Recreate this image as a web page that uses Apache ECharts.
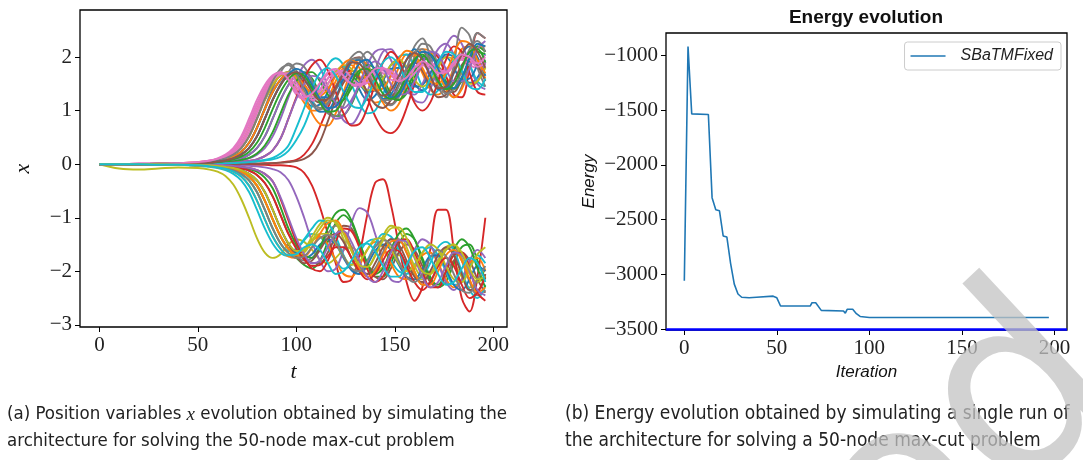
<!DOCTYPE html>
<html><head><meta charset="utf-8">
<script src="https://cdn.jsdelivr.net/npm/echarts@6/dist/echarts.min.js"></script>
<style>html,body{margin:0;padding:0;background:#fff}#c{width:1083px;height:460px}</style>
</head><body><div id="c"></div>
<script>
// time grid (t) shared by the 50 position traces
const T = [0,10,20,30,40,50,56,60,64,68,72,76,80,84,88,92,96,100,104,108,112,116,120,124,128,132,136,140,144,148,152,156,160,164,168,172,176,180,184,188,192,196];

const s00 = [0,0,0,0.01,0.01,0.03,0.05,0.07,0.11,0.18,0.3,0.52,0.85,1.2,1.48,1.66,1.72,1.55,1.25,1.08,1.12,1.35,1.7,1.82,1.7,1.4,1.2,1.28,1.55,1.85,1.95,1.78,1.5,1.38,1.5,1.82,2.05,2.0,1.72,1.52,1.62,1.9];
const s01 = [0,0,0,0.01,0.02,0.04,0.06,0.09,0.14,0.23,0.4,0.68,1.03,1.35,1.58,1.7,1.62,1.4,1.15,1.0,1.02,1.22,1.55,1.8,1.85,1.65,1.35,1.15,1.2,1.45,1.8,2.05,2.0,1.7,1.4,1.3,1.45,1.8,2.15,2.2,1.95,1.6];
const s02 = [0,0,0,0,0.01,0.01,0.02,0.03,0.05,0.07,0.11,0.18,0.3,0.52,0.85,1.2,1.48,1.66,1.72,1.6,1.3,1.02,0.9,0.92,1.12,1.45,1.7,1.78,1.6,1.32,1.2,1.32,1.62,1.9,2.0,1.85,1.55,1.42,1.55,1.85,2.1,2.05];
const s03 = [0,0,0,0,0,0,0,0,0,0.005,0.01,0.01,0.01,0.02,0.02,0.03,0.05,0.08,0.18,0.38,0.7,1.05,1.4,1.65,1.75,1.6,1.25,0.9,0.65,0.58,0.7,1.05,1.5,1.9,2.1,2.0,1.65,1.3,1.25,1.8,2.45,2.35];
const s04 = [0,0,0,0,0.01,0.01,0.015,0.02,0.03,0.05,0.07,0.11,0.18,0.3,0.52,0.85,1.25,1.6,1.85,1.95,1.8,1.45,1.1,0.82,0.75,0.95,1.35,1.75,2.1,2.15,1.9,1.5,1.2,1.15,1.4,1.8,2.2,2.4,2.25,1.85,1.5,1.4];
const s05 = [0,0,0,0.01,0.01,0.02,0.04,0.06,0.09,0.14,0.23,0.4,0.68,1.03,1.35,1.58,1.72,1.7,1.5,1.25,1.15,1.22,1.45,1.75,1.95,2.0,1.8,1.45,1.2,1.12,1.3,1.65,1.95,2.1,1.95,1.6,1.35,1.35,1.6,1.95,2.2,2.1];
const s06 = [0,0,0.01,0.01,0.02,0.04,0.07,0.11,0.18,0.3,0.52,0.85,1.2,1.48,1.66,1.72,1.55,1.3,1.22,1.3,1.5,1.68,1.72,1.6,1.48,1.5,1.65,1.75,1.7,1.58,1.55,1.68,1.82,1.85,1.72,1.65,1.75,1.92,1.98,1.85,1.8,1.95];
const s07 = [0,0,0,0.01,0.01,0.02,0.04,0.06,0.09,0.14,0.23,0.4,0.68,1.05,1.42,1.72,1.88,1.75,1.45,1.18,1.05,1.15,1.42,1.75,2.0,2.1,1.9,1.5,1.2,1.1,1.25,1.6,2.0,2.25,2.2,1.85,1.45,1.25,1.45,2.0,2.45,2.35];
const s08 = [0,-0.08,-0.1,-0.08,-0.06,-0.07,-0.1,-0.14,-0.22,-0.38,-0.65,-1.0,-1.38,-1.65,-1.75,-1.68,-1.5,-1.4,-1.45,-1.6,-1.78,-1.85,-1.75,-1.6,-1.55,-1.68,-1.88,-2.0,-1.92,-1.75,-1.7,-1.85,-2.05,-2.15,-2.05,-1.85,-1.75,-1.85,-2.1,-2.3,-2.2,-1.95];
const s09 = [0,0,0,0,0,0.01,0.01,0.01,0.02,0.02,0.03,0.04,0.05,0.07,0.09,0.14,0.25,0.45,0.72,1.1,1.5,1.85,1.98,1.85,1.5,1.15,0.95,1.0,1.3,1.7,2.0,2.05,1.8,1.45,1.3,1.38,1.65,1.95,2.05,1.85,1.55,1.45];
const s10 = [0,0,0,0,0.01,0.02,0.03,0.05,0.07,0.11,0.18,0.3,0.52,0.85,1.2,1.48,1.66,1.72,1.6,1.4,1.25,1.25,1.4,1.58,1.62,1.5,1.35,1.38,1.58,1.78,1.8,1.62,1.45,1.48,1.7,1.95,2.0,1.8,1.58,1.6,1.85,2.05];
const s11 = [0,0,0,0.01,0.01,0.03,0.05,0.07,0.11,0.18,0.3,0.52,0.85,1.2,1.48,1.66,1.72,1.6,1.3,0.95,0.75,0.72,0.95,1.35,1.75,1.95,1.85,1.5,1.15,1.0,1.12,1.5,1.9,2.15,2.1,1.75,1.4,1.25,1.4,1.8,2.15,2.2];
const s12 = [0,0,0,0,-0.01,-0.02,-0.025,-0.04,-0.06,-0.09,-0.14,-0.23,-0.4,-0.68,-1.03,-1.35,-1.58,-1.75,-1.88,-1.95,-1.8,-1.45,-1.1,-0.95,-1.1,-1.45,-1.85,-2.1,-2.1,-1.85,-1.5,-1.3,-1.4,-1.75,-2.1,-2.3,-2.2,-1.85,-1.55,-1.5,-1.8,-2.15];
const s13 = [0,0,0,0,0,0,0,0,0,0,-0.005,-0.01,-0.01,-0.01,-0.02,-0.02,-0.03,-0.06,-0.16,-0.4,-0.8,-1.3,-1.85,-2.2,-2.15,-1.7,-0.95,-0.35,-0.28,-0.75,-1.5,-2.2,-2.55,-2.3,-1.6,-0.85,-0.85,-1.6,-2.5,-2.75,-2.1,-1.0];
const s14 = [0,0,0,0,0.01,0.01,0.02,0.03,0.05,0.07,0.11,0.18,0.3,0.52,0.85,1.2,1.48,1.66,1.72,1.55,1.25,1.0,0.85,0.9,1.15,1.5,1.85,2.1,2.15,1.95,1.6,1.35,1.3,1.5,1.85,2.15,2.25,2.05,1.7,1.45,1.55,1.9];
const s15 = [0,0,0,0,0,-0.01,-0.015,-0.02,-0.03,-0.05,-0.08,-0.12,-0.2,-0.35,-0.6,-0.95,-1.3,-1.55,-1.72,-1.85,-1.85,-1.65,-1.35,-1.15,-1.2,-1.5,-1.85,-2.1,-2.15,-1.95,-1.65,-1.5,-1.6,-1.9,-2.2,-2.3,-2.1,-1.8,-1.65,-1.8,-2.15,-2.4];
const s16 = [0,0,0.01,0.01,0.02,0.04,0.065,0.1,0.16,0.27,0.47,0.77,1.12,1.42,1.63,1.72,1.6,1.38,1.2,1.18,1.35,1.6,1.75,1.72,1.55,1.45,1.52,1.68,1.78,1.72,1.6,1.6,1.75,1.88,1.85,1.72,1.7,1.85,2.0,1.98,1.85,1.9];
const s17 = [0,0,0,0,0.01,0.02,0.03,0.05,0.07,0.11,0.18,0.3,0.52,0.85,1.2,1.5,1.72,1.88,1.82,1.55,1.2,0.95,0.9,1.1,1.5,1.9,2.1,1.95,1.6,1.3,1.35,1.75,2.2,2.35,2.0,1.45,1.25,1.85,2.55,2.4,1.8,1.45];
const s18 = [0,0,0,0.01,0.01,0.03,0.05,0.07,0.11,0.18,0.3,0.52,0.85,1.2,1.48,1.66,1.72,1.62,1.42,1.3,1.32,1.5,1.72,1.85,1.78,1.55,1.38,1.4,1.6,1.85,1.95,1.82,1.58,1.45,1.55,1.8,2.0,1.95,1.7,1.5,1.55,1.8];
const s19 = [0,0,0,-0.01,-0.01,-0.03,-0.05,-0.07,-0.11,-0.18,-0.3,-0.52,-0.85,-1.2,-1.48,-1.66,-1.72,-1.6,-1.42,-1.3,-1.35,-1.55,-1.8,-1.95,-1.88,-1.65,-1.45,-1.4,-1.55,-1.8,-2.0,-2.05,-1.88,-1.65,-1.55,-1.7,-2.0,-2.25,-2.2,-1.9,-1.7,-1.85];
const s20 = [0,0,0,0.01,0.01,0.02,0.04,0.06,0.09,0.14,0.23,0.4,0.68,1.03,1.35,1.58,1.7,1.68,1.45,1.15,0.98,1.0,1.25,1.6,1.9,1.95,1.72,1.4,1.22,1.3,1.6,1.95,2.15,2.0,1.65,1.4,1.42,1.7,2.05,2.2,2.0,1.65];
const s21 = [0,0,0,-0.01,-0.01,-0.02,-0.04,-0.06,-0.09,-0.14,-0.23,-0.4,-0.68,-1.03,-1.35,-1.58,-1.72,-1.75,-1.62,-1.42,-1.35,-1.5,-1.8,-2.05,-2.1,-1.9,-1.6,-1.45,-1.55,-1.85,-2.1,-2.15,-1.95,-1.7,-1.65,-1.85,-2.15,-2.3,-2.15,-1.85,-1.75,-2.0];
const s22 = [0,0,0,0,0,0.01,0.015,0.02,0.03,0.05,0.08,0.12,0.2,0.35,0.6,0.95,1.3,1.55,1.7,1.72,1.55,1.3,1.15,1.2,1.42,1.7,1.85,1.78,1.5,1.25,1.2,1.4,1.72,2.0,2.05,1.8,1.5,1.4,1.6,1.95,2.2,2.1];
const s23 = [0,0,0,0,0,0,0.01,0.01,0.02,0.03,0.04,0.06,0.09,0.15,0.26,0.48,0.85,1.25,1.6,1.85,1.95,1.75,1.35,0.95,0.72,0.75,1.05,1.5,1.9,2.1,1.95,1.55,1.15,1.0,1.15,1.55,1.95,2.2,2.1,1.7,1.35,1.3];
const s24 = [0,0,0,0,0,0,0,-0.01,-0.01,-0.015,-0.02,-0.03,-0.04,-0.06,-0.09,-0.15,-0.3,-0.6,-1.0,-1.45,-1.8,-2.0,-1.95,-1.6,-1.1,-0.82,-0.9,-1.3,-1.8,-2.15,-2.2,-1.95,-1.6,-1.4,-1.5,-1.85,-2.2,-2.35,-2.15,-1.8,-1.6,-1.75];
const s25 = [0,0,0,0,0,0,0,0,0,0,0.005,0.01,0.01,0.01,0.02,0.03,0.04,0.06,0.1,0.2,0.42,0.8,1.2,1.52,1.68,1.6,1.35,1.12,1.05,1.2,1.5,1.78,1.9,1.75,1.45,1.25,1.3,1.55,1.85,2.0,1.85,1.55];
const s26 = [0,0,0.01,0.01,0.02,0.03,0.06,0.09,0.14,0.23,0.4,0.68,1.03,1.35,1.58,1.7,1.65,1.45,1.28,1.25,1.4,1.6,1.7,1.62,1.48,1.45,1.58,1.72,1.75,1.65,1.58,1.65,1.8,1.88,1.8,1.7,1.78,1.9,1.95,1.88,1.9,2.05];
const s27 = [0,0,0,0,-0.01,-0.02,-0.025,-0.04,-0.06,-0.09,-0.14,-0.23,-0.4,-0.68,-1.03,-1.35,-1.58,-1.72,-1.8,-1.75,-1.55,-1.3,-1.15,-1.25,-1.55,-1.9,-2.05,-1.95,-1.65,-1.4,-1.4,-1.65,-2.0,-2.25,-2.2,-1.9,-1.6,-1.55,-1.8,-2.2,-2.45,-2.35];
const s28 = [0,0,0,0,-0.01,-0.02,-0.03,-0.05,-0.07,-0.11,-0.18,-0.3,-0.52,-0.85,-1.2,-1.48,-1.66,-1.72,-1.6,-1.35,-1.12,-1.0,-1.1,-1.4,-1.75,-1.98,-1.95,-1.7,-1.35,-1.15,-1.22,-1.55,-1.9,-2.1,-2.05,-1.8,-1.55,-1.5,-1.75,-2.05,-2.2,-2.1];
const s29 = [0,0,0,0,-0.01,-0.02,-0.03,-0.05,-0.07,-0.11,-0.18,-0.3,-0.52,-0.85,-1.2,-1.48,-1.62,-1.58,-1.4,-1.2,-1.05,-1.1,-1.35,-1.7,-1.95,-2.0,-1.8,-1.5,-1.3,-1.35,-1.6,-1.95,-2.15,-2.1,-1.85,-1.55,-1.45,-1.6,-2.0,-2.35,-2.5,-2.25];
const s30 = [0,0,0,0,-0.01,-0.01,-0.02,-0.03,-0.05,-0.07,-0.11,-0.18,-0.3,-0.52,-0.85,-1.2,-1.48,-1.66,-1.75,-1.68,-1.5,-1.4,-1.5,-1.75,-1.98,-2.05,-1.88,-1.62,-1.5,-1.6,-1.88,-2.1,-2.15,-1.95,-1.72,-1.7,-1.95,-2.25,-2.35,-2.15,-1.9,-2.0];
const s31 = [0,0,0,0.01,0.01,0.02,0.04,0.06,0.09,0.14,0.23,0.4,0.68,1.03,1.35,1.58,1.7,1.65,1.48,1.32,1.28,1.4,1.65,1.88,1.95,1.8,1.55,1.38,1.42,1.65,1.95,2.12,2.05,1.8,1.55,1.5,1.72,2.05,2.3,2.25,1.95,1.7];
const s32 = [0,0,0,0,0,-0.01,-0.015,-0.02,-0.03,-0.04,-0.06,-0.09,-0.14,-0.25,-0.45,-0.8,-1.2,-1.5,-1.7,-1.75,-1.55,-1.2,-0.92,-0.85,-1.05,-1.45,-1.85,-2.05,-1.95,-1.6,-1.3,-1.2,-1.4,-1.8,-2.15,-2.25,-2.0,-1.6,-1.4,-1.55,-1.95,-2.3];
const s33 = [0,0,0,0,0,0,-0.01,-0.01,-0.02,-0.03,-0.05,-0.07,-0.11,-0.18,-0.32,-0.65,-1.05,-1.45,-1.75,-1.95,-2.0,-1.8,-1.45,-1.2,-1.25,-1.55,-1.95,-2.2,-2.1,-1.75,-1.45,-1.4,-1.65,-2.0,-2.3,-2.3,-2.0,-1.7,-1.65,-1.95,-2.4,-2.55];
const s34 = [0,0,0,0,0,0,0.01,0.01,0.02,0.03,0.04,0.06,0.09,0.15,0.26,0.48,0.85,1.22,1.5,1.65,1.6,1.38,1.15,1.05,1.2,1.5,1.8,1.92,1.8,1.5,1.3,1.32,1.55,1.88,2.1,2.05,1.78,1.55,1.55,1.8,2.15,2.3];
const s35 = [0,0,0,0,-0.01,-0.01,-0.02,-0.03,-0.05,-0.07,-0.11,-0.18,-0.3,-0.52,-0.85,-1.2,-1.5,-1.72,-1.85,-1.8,-1.6,-1.38,-1.3,-1.45,-1.75,-2.0,-2.05,-1.85,-1.55,-1.4,-1.5,-1.8,-2.1,-2.2,-2.0,-1.7,-1.55,-1.7,-2.05,-2.35,-2.35,-2.05];
const s36 = [0,0,0.01,0.01,0.02,0.03,0.055,0.08,0.12,0.2,0.35,0.6,0.95,1.28,1.55,1.68,1.7,1.52,1.3,1.2,1.28,1.5,1.7,1.75,1.62,1.5,1.52,1.65,1.78,1.75,1.62,1.58,1.7,1.85,1.9,1.78,1.72,1.85,2.0,1.95,1.82,1.88];
const s37 = [0,0,0,0.01,0.01,0.03,0.05,0.07,0.11,0.18,0.3,0.52,0.85,1.22,1.55,1.78,1.85,1.68,1.38,1.12,1.02,1.12,1.4,1.72,1.95,1.98,1.75,1.42,1.2,1.2,1.45,1.8,2.1,2.15,1.9,1.55,1.32,1.4,1.75,2.15,2.3,2.1];
const s38 = [0,0,0,0,-0.01,-0.02,-0.025,-0.04,-0.06,-0.09,-0.14,-0.23,-0.4,-0.68,-1.03,-1.35,-1.58,-1.7,-1.65,-1.45,-1.3,-1.3,-1.48,-1.72,-1.88,-1.82,-1.6,-1.4,-1.38,-1.58,-1.85,-2.0,-1.9,-1.65,-1.5,-1.6,-1.9,-2.15,-2.2,-1.95,-1.68,-1.55];
const s39 = [0,0,0,0,0,0,0.01,0.01,0.015,0.02,0.03,0.04,0.06,0.08,0.12,0.2,0.35,0.68,1.05,1.42,1.7,1.8,1.65,1.35,1.1,1.05,1.25,1.6,1.9,2.0,1.85,1.55,1.35,1.35,1.6,1.9,2.1,2.05,1.75,1.45,1.4,1.6];
const s40 = [0,0,0,0,0.01,0.02,0.03,0.05,0.07,0.11,0.18,0.3,0.52,0.85,1.2,1.48,1.68,1.78,1.7,1.48,1.22,1.05,1.08,1.3,1.62,1.88,1.95,1.75,1.45,1.25,1.28,1.55,1.88,2.1,2.05,1.78,1.5,1.42,1.62,1.98,2.25,2.2];
const s41 = [0,0,0,0,-0.01,-0.02,-0.025,-0.04,-0.06,-0.09,-0.14,-0.23,-0.4,-0.68,-1.03,-1.35,-1.58,-1.7,-1.72,-1.55,-1.3,-1.1,-1.05,-1.25,-1.6,-1.95,-2.1,-2.0,-1.7,-1.45,-1.42,-1.65,-2.0,-2.25,-2.25,-2.0,-1.7,-1.6,-1.8,-2.15,-2.4,-2.3];
const s42 = [0,0,0,0,0.01,0.02,0.025,0.04,0.06,0.09,0.14,0.23,0.4,0.68,1.03,1.35,1.58,1.7,1.65,1.42,1.15,0.98,1.0,1.22,1.52,1.75,1.78,1.58,1.32,1.22,1.35,1.65,1.95,2.05,1.85,1.55,1.4,1.5,1.8,2.1,2.15,1.9];
const s43 = [0,0,0,0,0,-0.01,-0.015,-0.02,-0.03,-0.05,-0.08,-0.12,-0.2,-0.35,-0.6,-0.95,-1.3,-1.58,-1.78,-1.9,-1.88,-1.72,-1.55,-1.55,-1.75,-2.0,-2.15,-2.05,-1.8,-1.6,-1.62,-1.9,-2.2,-2.35,-2.2,-1.9,-1.75,-1.9,-2.25,-2.5,-2.4,-2.1];
const s44 = [0,0,0,0,0,0,-0.01,-0.01,-0.02,-0.03,-0.05,-0.07,-0.11,-0.18,-0.32,-0.62,-1.0,-1.38,-1.68,-1.85,-1.8,-1.55,-1.3,-1.25,-1.45,-1.8,-2.1,-2.2,-2.0,-1.65,-1.42,-1.45,-1.75,-2.1,-2.3,-2.2,-1.9,-1.65,-1.7,-2.0,-2.35,-2.45];
const s45 = [0,0,0,0,0.01,0.02,0.03,0.05,0.07,0.11,0.18,0.3,0.52,0.85,1.2,1.48,1.66,1.72,1.58,1.35,1.2,1.22,1.42,1.7,1.9,1.88,1.65,1.4,1.28,1.38,1.65,1.95,2.08,1.95,1.65,1.42,1.45,1.72,2.05,2.25,2.1,1.8];
const s46 = [0,0,0.01,0.01,0.02,0.04,0.065,0.1,0.16,0.27,0.47,0.77,1.12,1.42,1.63,1.72,1.58,1.35,1.25,1.32,1.52,1.72,1.78,1.65,1.5,1.48,1.62,1.78,1.8,1.68,1.55,1.62,1.8,1.92,1.85,1.7,1.72,1.9,2.05,2.0,1.88,2.0];
const s47 = [0,0,0,0,-0.01,-0.02,-0.03,-0.05,-0.07,-0.11,-0.18,-0.3,-0.52,-0.85,-1.2,-1.48,-1.66,-1.75,-1.72,-1.55,-1.38,-1.32,-1.45,-1.72,-1.95,-2.0,-1.82,-1.55,-1.42,-1.5,-1.8,-2.1,-2.2,-2.05,-1.75,-1.6,-1.72,-2.05,-2.35,-2.4,-2.15,-1.9];
const s48 = [0,0,0,0,-0.01,-0.01,-0.02,-0.03,-0.05,-0.07,-0.11,-0.18,-0.3,-0.52,-0.85,-1.2,-1.48,-1.62,-1.6,-1.42,-1.2,-1.05,-1.08,-1.3,-1.62,-1.88,-1.92,-1.72,-1.42,-1.2,-1.18,-1.38,-1.72,-2.0,-2.05,-1.85,-1.6,-1.5,-1.65,-1.95,-2.15,-2.1];
const s49 = [0,0,0,-0.01,-0.01,-0.02,-0.04,-0.06,-0.09,-0.14,-0.23,-0.4,-0.68,-1.03,-1.35,-1.58,-1.7,-1.68,-1.55,-1.5,-1.6,-1.85,-2.05,-2.0,-1.8,-1.55,-1.48,-1.62,-1.9,-2.1,-2.1,-1.88,-1.62,-1.55,-1.75,-2.05,-2.25,-2.2,-1.95,-1.75,-1.85,-2.2];

// energy evolution (breakpoints of the step-like curve)
const iterE = [0,1,2,3,4,13,15,17,19,21,23,25,27,29,31,35,39,40,48,50,52,68,69,71,74,86,87,88,91,93,95,100,197];
const energyE = [-3060,-3065,-920,-915,-1535,-1540,-2300,-2410,-2420,-2650,-2660,-2900,-3090,-3180,-3210,-3215,-3210,-3200,-3200,-3215,-3290,-3290,-3260,-3260,-3330,-3335,-3355,-3320,-3320,-3360,-3385,-3395,-3395];
const optimumE = -3500;

const xTicks = [0,50,100,150,200];
const posTicks = [-3,-2,-1,0,1,2];
const energyTicks = [-3500,-3000,-2500,-2000,-1500,-1000];
const palette = ['#1f77b4','#ff7f0e','#2ca02c','#d62728','#9467bd','#8c564b','#e377c2','#7f7f7f','#bcbd22','#17becf'];
const positions = [s00,s01,s02,s03,s04,s05,s06,s07,s08,s09,s10,s11,s12,s13,s14,s15,s16,s17,s18,s19,s20,s21,s22,s23,s24,s25,s26,s27,s28,s29,s30,s31,s32,s33,s34,s35,s36,s37,s38,s39,s40,s41,s42,s43,s44,s45,s46,s47,s48,s49];

const fmt = v => (v < 0 ? '\u2212' + (-v) : '' + v);
const serif = '"Liberation Serif", "DejaVu Serif", serif';
const sans = '"Liberation Sans", "DejaVu Sans", sans-serif';
const narrow = '"Liberation Sans Narrow", "DejaVu Sans Condensed", sans-serif';
const tickLabel = {fontFamily: serif, fontSize: 21, color: '#222', formatter: fmt};

const series = positions.map((ys, k) => ({
  type: 'line', xAxisIndex: 0, yAxisIndex: 0,
  data: T.map((t, i) => [t, ys[i]]),
  smooth: 0.35, symbol: 'none', silent: true,
  lineStyle: {color: palette[k % 10], width: 1.9},
  itemStyle: {color: palette[k % 10]}
}));
series.push({
  type: 'line', name: 'SBaTMFixed', xAxisIndex: 1, yAxisIndex: 1,
  data: iterE.map((t, i) => [t, energyE[i]]),
  symbol: 'none', showSymbol: false, lineStyle: {color: '#1f77b4', width: 1.6}, itemStyle: {color: '#1f77b4'},
  markLine: {silent: true, symbol: 'none', label: {show: false},
    lineStyle: {color: '#0000ff', width: 2.5, type: 'solid'}, data: [{yAxis: optimumE}]}
});

function xAxisCfg(idx, min, max, name, nameStyle) {
  return {gridIndex: idx, type: 'value', min: min, max: max,
    axisLine: {show: false, onZero: false}, splitLine: {show: false},
    axisTick: {show: true, customValues: xTicks, length: 5, lineStyle: {color: '#000', width: 1}},
    axisLabel: Object.assign({customValues: xTicks, margin: 8}, tickLabel),
    name: name, nameLocation: 'middle', nameGap: 31, nameTextStyle: nameStyle};
}
function yAxisCfg(idx, min, max, ticks, name, gap, nameStyle) {
  return {gridIndex: idx, type: 'value', min: min, max: max,
    axisLine: {show: false, onZero: false}, splitLine: {show: false},
    axisTick: {show: true, customValues: ticks, length: 5, lineStyle: {color: '#000', width: 1}},
    axisLabel: Object.assign({customValues: ticks, margin: 8}, tickLabel),
    name: name, nameLocation: 'middle', nameGap: gap, nameTextStyle: nameStyle};
}

const chart = echarts.init(document.getElementById('c'), null, {renderer: 'canvas'});
chart.setOption({
  animation: false,
  backgroundColor: '#fff',
  grid: [
    {left: 80, top: 10, right: 576, bottom: 133, show: true, borderColor: '#000', borderWidth: 1.3, backgroundColor: 'transparent'},
    {left: 666, top: 33, right: 16, bottom: 130, show: true, borderColor: '#000', borderWidth: 1.3, backgroundColor: 'transparent'}
  ],
  xAxis: [
    xAxisCfg(0, -9.85, 207, 't', {fontFamily: serif, fontStyle: 'italic', fontSize: 22, color: '#111'}),
    xAxisCfg(1, -9.9, 206.8, 'Iteration', {fontFamily: sans, fontStyle: 'italic', fontSize: 17, color: '#111'})
  ],
  yAxis: [
    yAxisCfg(0, -3.04, 2.88, posTicks, 'x', 46, {fontFamily: serif, fontStyle: 'italic', fontSize: 22, color: '#111'}),
    yAxisCfg(1, -3509, -796, energyTicks, 'Energy', 68, {fontFamily: sans, fontStyle: 'italic', fontSize: 17, color: '#111'})
  ],
  legend: {
    data: [{name: 'SBaTMFixed', icon: 'path://M0,0L35,0L35,1.6L0,1.6Z'}],
    top: 42, right: 22, orient: 'vertical',
    itemWidth: 35, itemHeight: 12,
    borderColor: '#cccccc', borderWidth: 1, borderRadius: 3, padding: [6, 8, 6, 6],
    textStyle: {fontFamily: sans, fontStyle: 'italic', fontSize: 16, color: '#222', padding: [0, 0, 0, 10]}
  },
  graphic: [
    {type: 'text', x: 866, y: 8, style: {text: 'Energy evolution', fontFamily: sans, fontWeight: 'bold', fontSize: 19, fill: '#111', align: 'center', verticalAlign: 'top'}},
    {type: 'text', x: 7, y: 401, style: {
      text: '(a) Position variables {i|x} evolution obtained by simulating the\narchitecture for solving the 50-node max-cut problem',
      fontFamily: narrow, fontSize: 18.5, lineHeight: 27, fill: '#222',
      rich: {i: {fontFamily: serif, fontStyle: 'italic', fontSize: 19, lineHeight: 27, fill: '#222'}}}},
    {type: 'text', x: 565, y: 401, style: {
      text: '(b) Energy evolution obtained by simulating a single run of\nthe architecture for solving a 50-node max-cut problem',
      fontFamily: narrow, fontSize: 19, lineHeight: 27, fill: '#222'}},
    {type: 'text', x: 937, y: 656, rotation: Math.PI * 0.239, z: 100, silent: true, style: {
      text: 'ed', fontFamily: '"DejaVu Sans", sans-serif', fontSize: 255, fill: 'rgba(195,195,195,0.75)', align: 'left', verticalAlign: 'bottom'}}
  ],
  series: series
});
</script>
</body></html>
